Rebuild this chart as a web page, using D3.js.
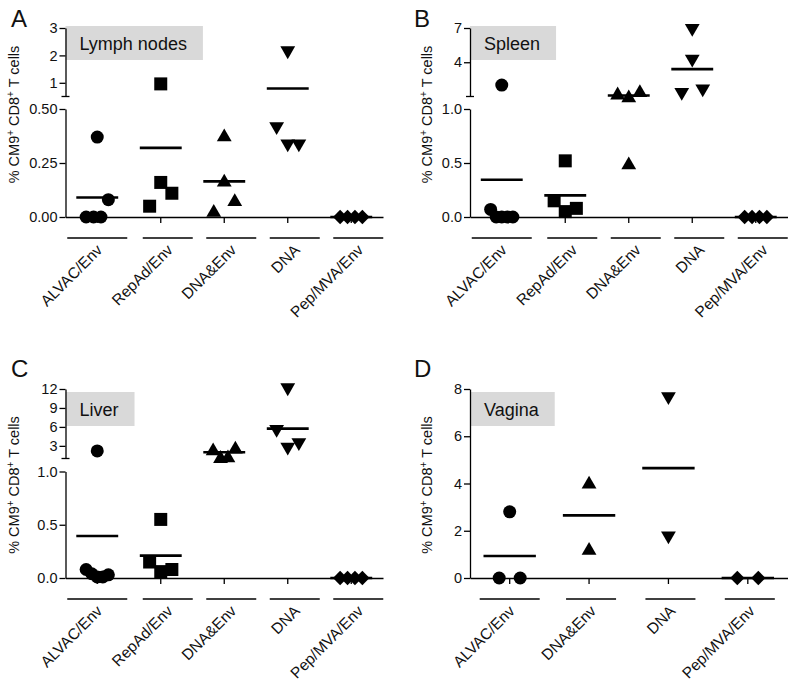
<!DOCTYPE html>
<html>
<head>
<meta charset="utf-8">
<script src="https://cdn.jsdelivr.net/npm/d3@7"></script>
<style>
  body { margin: 0; background: #fff; }
  svg { display: block; font-family: "Liberation Sans", Arial, Helvetica, sans-serif; }
</style>
</head>
<body>
<svg id="fig" width="800" height="686"></svg>
<script>
// ---- data ----
const fiveGroups = ["ALVAC/Env", "RepAd/Env", "DNA&Env", "DNA", "Pep/MVA/Env"];
const fourGroups = ["ALVAC/Env", "DNA&Env", "DNA", "Pep/MVA/Env"];

// one inner array per group, in animal order
const lymphNodeValues = [
    [0.37, 0, 0, 0, 0.08],
    [0.96, 0.05, 0.16, 0.11],
    [0.38, 0.17, 0.03, 0.08],
    [2.1, 0.41, 0.33, 0.33],
    [0, 0, 0, 0]
];
const spleenValues = [
    [2.0, 0.07, 0, 0, 0, 0],
    [0.52, 0.15, 0.05, 0.08],
    [1.3, 1.05, 1.5, 0.5],
    [6.8, 4.1, 1.2, 1.5],
    [0, 0, 0, 0]
];
const liverValues = [
    [2.2, 0.08, 0.04, 0.01, 0.01, 0.03],
    [0.55, 0.15, 0.06, 0.08],
    [2.5, 1.3, 1.4, 2.8],
    [11.9, 5.3, 2.5, 3.2],
    [0, 0, 0, 0]
];
const vaginaValues = [
    [2.8, 0, 0],
    [4.05, 1.25],
    [7.6, 1.7],
    [0, 0]
];

const lymphLowerTicks = [0, 0.25, 0.5];
const lymphUpperTicks = [1, 2, 3];
const spleenLowerTicks = [0, 0.5, 1];
const spleenUpperTicks = [4, 7];
const liverLowerTicks = [0, 0.5, 1];
const liverUpperTicks = [3, 6, 9, 12];
const vaginaTicks = [0, 2, 4, 6, 8];

const markerOf = {
    "ALVAC/Env": "circle",
    "RepAd/Env": "square",
    "DNA&Env": "triangleUp",
    "DNA": "triangleDown",
    "Pep/MVA/Env": "diamond"
};

// ---- layout ----
const ROWS = [
    { top: 28, capY: 96.5, lowerTop: 109, base: 217, letterY: 27, titleY: 114.5, boxY: 26 },
    { top: 389, capY: 458.5, lowerTop: 471.5, base: 578, letterY: 377, titleY: 485, boxY: 392 }
];
const COLS = [
    { axisX: 65.5, letterX: 11, titleX: 19 },
    { axisX: 470, letterX: 414, titleX: 432 }
];
const AXIS_W = 317.5;

const panels = [
    { letter: "A", tissue: "Lymph nodes", groups: fiveGroups, values: lymphNodeValues,
      lowerTicks: lymphLowerTicks, upperTicks: lymphUpperTicks, breakAt: 0.5,
      lowerFmt: d3.format(".2f"), row: 0, col: 0, lineShift: 7 },
    { letter: "B", tissue: "Spleen", groups: fiveGroups, values: spleenValues,
      lowerTicks: spleenLowerTicks, upperTicks: spleenUpperTicks, breakAt: 1,
      lowerFmt: d3.format(".1f"), row: 0, col: 1, lineShift: 7 },
    { letter: "C", tissue: "Liver", groups: fiveGroups, values: liverValues,
      lowerTicks: liverLowerTicks, upperTicks: liverUpperTicks, breakAt: 1,
      lowerFmt: d3.format(".1f"), row: 1, col: 0, lineShift: 7 },
    { letter: "D", tissue: "Vagina", groups: fourGroups, values: vaginaValues,
      ticks: vaginaTicks, row: 1, col: 1, lineShift: 2 }
];

const svg = d3.select("#fig");
svg.append("rect").attr("width", 800).attr("height", 686).attr("fill", "#fff");

function markerPath(type) {
    switch (type) {
        case "circle": return d3.symbol(d3.symbolCircle, Math.PI * 6.5 * 6.5)();
        case "square": return d3.symbol(d3.symbolSquare, 13 * 13)();
        case "triangleUp": return "M0,-6.5L7.4,6.3L-7.4,6.3Z";
        case "triangleDown": return "M0,6.5L7.4,-6.3L-7.4,-6.3Z";
        default: return "M0,-7.2L7.2,0L0,7.2L-7.2,0Z";
    }
}

// spread points that would overlap, like a column scatter
function dodge(vals, yOf, center, step) {
    const pts = vals.map((v, i) => ({ v, i, y: yOf(v) }));
    const sorted = pts.slice().sort((a, b) => a.y - b.y);
    const clusters = [];
    sorted.forEach(p => {
        const last = clusters[clusters.length - 1];
        if (last && p.y - last[last.length - 1].y < 18.5) last.push(p);
        else clusters.push([p]);
    });
    clusters.forEach(cl => {
        cl.sort((a, b) => a.i - b.i);
        const gap = cl.length > 1 ? Math.min(21, step * 0.35 / (cl.length - 1)) : 0;
        cl.forEach((p, k) => { p.x = center + (k - (cl.length - 1) / 2) * gap; });
    });
    return pts;
}

function styleAxis(sel) {
    sel.attr("font-family", null).attr("font-size", 14.5);
    sel.selectAll("path, line").attr("stroke", "#000").attr("stroke-width", 1.3);
    sel.selectAll("text").attr("fill", "#111");
}

function drawPanel(p) {
    const r = ROWS[p.row], c = COLS[p.col];
    const g = svg.append("g").attr("class", "panel panel-" + p.letter);

    // tissue tag
    const tag = g.append("g").attr("class", "tissue-tag");
    const tagRect = tag.append("rect").attr("x", c.axisX).attr("y", r.boxY)
        .attr("height", 34).attr("fill", "#d9d9d9");
    const tagText = tag.append("text").attr("x", c.axisX + 14).attr("y", r.boxY + 24)
        .attr("font-size", 18).attr("fill", "#111").text(p.tissue);
    tagRect.attr("width", tagText.node().getComputedTextLength() + 30);

    // panel letter
    g.append("text").attr("x", c.letterX).attr("y", r.letterY)
        .attr("font-size", 24).attr("fill", "#111").text(p.letter);

    // y axis (broken when needed)
    let yOf;
    if (p.breakAt == null) {
        const y = d3.scaleLinear().domain([0, d3.max(p.ticks)]).range([r.base, r.top]);
        yOf = y;
        g.append("g").attr("transform", `translate(${c.axisX},0)`)
            .call(d3.axisLeft(y).tickValues(p.ticks).tickFormat(d3.format("d"))
                .tickSize(6).tickSizeOuter(0).tickPadding(2))
            .call(styleAxis);
    } else {
        const lower = d3.scaleLinear().domain([0, p.breakAt]).range([r.base, r.lowerTop]);
        const upper = d3.scaleLinear().domain([p.breakAt, d3.max(p.upperTicks)]).range([r.capY, r.top]);
        yOf = v => v <= p.breakAt ? lower(v) : upper(v);
        g.append("g").attr("transform", `translate(${c.axisX},0)`)
            .call(d3.axisLeft(lower).tickValues(p.lowerTicks).tickFormat(p.lowerFmt)
                .tickSize(6).tickSizeOuter(0).tickPadding(2))
            .call(styleAxis);
        g.append("g").attr("transform", `translate(${c.axisX},0)`)
            .call(d3.axisLeft(upper).tickValues(p.upperTicks).tickFormat(d3.format("d"))
                .tickSize(6).tickSizeOuter(0).tickPadding(2))
            .call(styleAxis);
        g.append("line")
            .attr("x1", c.axisX - 4).attr("x2", c.axisX + 4)
            .attr("y1", upper(p.breakAt)).attr("y2", upper(p.breakAt))
            .attr("stroke", "#000").attr("stroke-width", 1.3);
    }

    // y axis title
    const title = g.append("text")
        .attr("transform", `translate(${c.titleX},${r.titleY}) rotate(-90)`)
        .attr("text-anchor", "middle").attr("font-size", 14.5).attr("fill", "#111");
    title.append("tspan").text("% CM9");
    title.append("tspan").attr("dy", -5).attr("font-size", 10).text("+");
    title.append("tspan").attr("dy", 5).text(" CD8");
    title.append("tspan").attr("dy", -5).attr("font-size", 10).text("+");
    title.append("tspan").attr("dy", 5).text(" T cells");

    // x axis
    const x = d3.scaleBand().domain(p.groups).range([c.axisX, c.axisX + AXIS_W]);
    const step = x.bandwidth();
    const cx = d => x(d) + step / 2;
    g.append("g").attr("transform", `translate(0,${r.base})`)
        .call(d3.axisBottom(x).tickSize(6).tickSizeOuter(0).tickFormat(""))
        .call(styleAxis);

    // group underlines + rotated labels
    p.groups.forEach((name, i) => {
        const mid = i === 0 ? cx(name) : cx(name) + p.lineShift;
        const half = i === 0 ? 30 : 25;
        g.append("line")
            .attr("x1", mid - half).attr("x2", mid + half)
            .attr("y1", r.base + 21).attr("y2", r.base + 21)
            .attr("stroke", "#000").attr("stroke-width", 1.5);
        g.append("text")
            .attr("transform", `translate(${mid + 6},${r.base + 34}) rotate(-45)`)
            .attr("text-anchor", "end").attr("font-size", 15.5).attr("fill", "#111")
            .text(name);
    });

    // points and means
    p.groups.forEach((name, i) => {
        const vals = p.values[i];
        const pts = dodge(vals, yOf, cx(name), step);
        g.append("g").attr("class", "points")
            .selectAll("path").data(pts).join("path")
            .attr("d", markerPath(markerOf[name]))
            .attr("transform", d => `translate(${d.x},${d.y})`)
            .attr("fill", "#000");
        const m = d3.mean(vals);
        g.append("line").attr("class", "mean")
            .attr("x1", cx(name) - step * 0.33).attr("x2", cx(name) + step * 0.33)
            .attr("y1", yOf(m)).attr("y2", yOf(m))
            .attr("stroke", "#000").attr("stroke-width", 2.6);
    });
}

panels.forEach(drawPanel);
</script>
</body>
</html>
